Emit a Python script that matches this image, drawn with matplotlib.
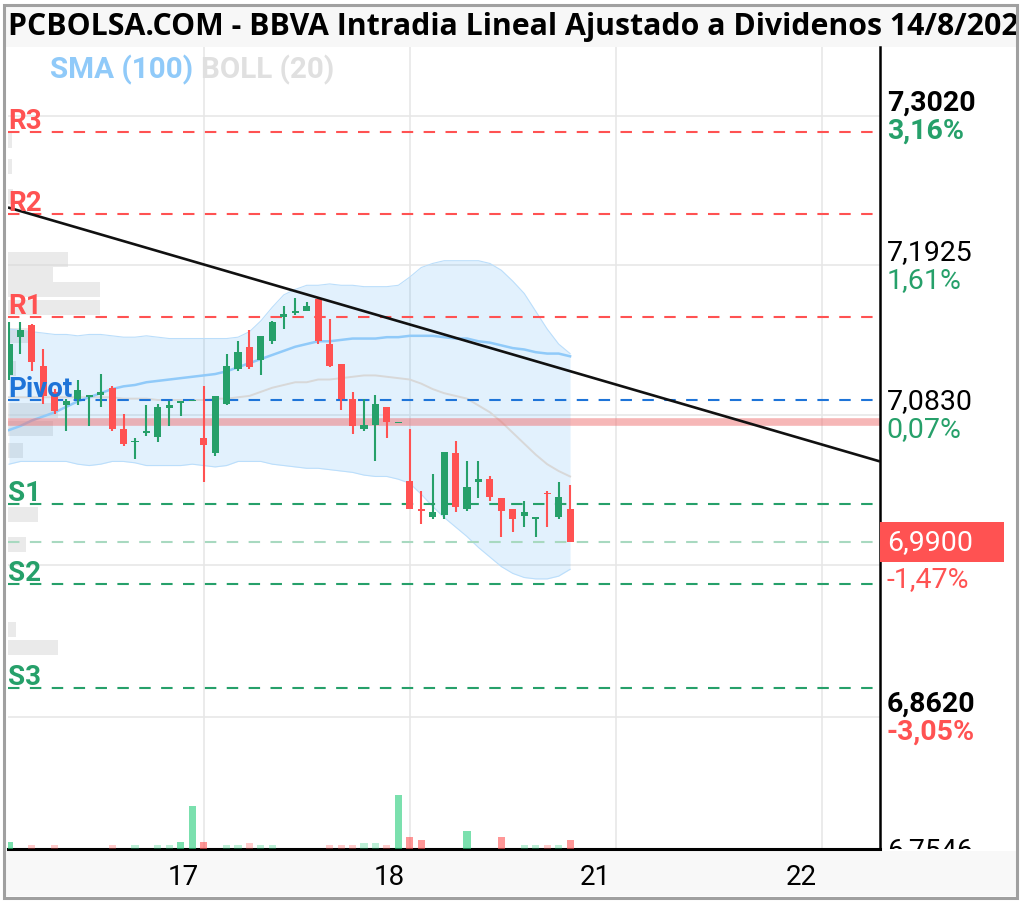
import numpy as np
import matplotlib
matplotlib.use("Agg")
import matplotlib.pyplot as plt
from matplotlib.patches import Rectangle
import matplotlib.transforms as mtransforms

plt.rcParams["font.family"] = ["Roboto", "DejaVu Sans"]

W, H = 1022, 904

# ---- candles (30 min slots, days 16 / 17 / 18) ----
opens = [7.112, 7.140, 7.149, 7.119, 7.100, 7.090, 7.095, 7.096, 7.098, 7.103,
         7.073, 7.063, 7.070, 7.067, 7.088, 7.092, 7.093, 7.066, 7.055, 7.091,
         7.117, 7.133, 7.123, 7.137, 7.155, 7.158, 7.159, 7.168, 7.135, 7.120,
         7.095, 7.073, 7.076, 7.089, 7.077, 7.035, 7.014, 7.008, 7.010, 7.055,
         7.014, 7.034, 7.036, 7.022, 7.014, 7.009, 7.007, 7.026, 7.008, 7.014]
highs = [7.151, 7.151, 7.150, 7.131, 7.102, 7.095, 7.109, 7.098, 7.113, 7.104,
         7.084, 7.066, 7.090, 7.091, 7.093, 7.093, 7.094, 7.104, 7.097, 7.128,
         7.137, 7.145, 7.141, 7.152, 7.163, 7.169, 7.166, 7.168, 7.153, 7.120,
         7.100, 7.095, 7.098, 7.089, 7.078, 7.073, 7.027, 7.040, 7.056, 7.064,
         7.049, 7.049, 7.038, 7.022, 7.014, 7.020, 7.008, 7.027, 7.034, 7.032]
lows = [7.109, 7.128, 7.115, 7.091, 7.084, 7.071, 7.090, 7.075, 7.089, 7.071,
        7.060, 7.051, 7.068, 7.063, 7.075, 7.082, 7.093, 7.034, 7.053, 7.090,
        7.115, 7.117, 7.112, 7.135, 7.146, 7.156, 7.159, 7.135, 7.118, 7.087,
        7.069, 7.071, 7.049, 7.066, 7.077, 7.014, 7.003, 7.007, 7.007, 7.012,
        7.013, 7.022, 7.020, 6.994, 6.997, 7.001, 6.994, 7.001, 7.007, 6.990]
closes = [7.135, 7.145, 7.122, 7.097, 7.086, 7.093, 7.101, 7.098, 7.100, 7.073,
          7.062, 7.064, 7.071, 7.089, 7.090, 7.093, 7.094, 7.061, 7.097, 7.119,
          7.129, 7.118, 7.141, 7.151, 7.157, 7.159, 7.163, 7.137, 7.119, 7.095,
          7.075, 7.076, 7.091, 7.078, 7.078, 7.014, 7.013, 7.012, 7.056, 7.016,
          7.030, 7.036, 7.023, 7.013, 7.007, 7.012, 7.008, 7.025, 7.023, 6.990]
# volume in millions of shares
volumes = [0.7, 0, 0.45, 0, 0.45, 0, 0, 0, 0, 0.45,
           0, 0.45, 0, 0.45, 0.45, 0.7, 4.3, 0.7, 0, 0.45,
           0.45, 0.6, 0.45, 0.45, 0, 0, 0, 0, 0.45, 0.45,
           0.45, 0.6, 0.6, 0.45, 5.4, 1.25, 0.95, 0, 0, 0,
           1.8, 0, 0, 1.25, 0, 0.45, 0.45, 0.45, 0.45, 0.95]

sma100 = [7.072, 7.075, 7.079, 7.082, 7.085, 7.089, 7.093, 7.096, 7.099, 7.102,
          7.104, 7.105, 7.107, 7.108, 7.109, 7.110, 7.111, 7.112, 7.113, 7.115,
          7.118, 7.121, 7.124, 7.127, 7.130, 7.133, 7.135, 7.137, 7.137, 7.138,
          7.139, 7.139, 7.139, 7.140, 7.140, 7.141, 7.141, 7.141, 7.140, 7.139,
          7.139, 7.137, 7.136, 7.134, 7.132, 7.131, 7.129, 7.128, 7.128, 7.126]
boll_up = [7.146, 7.145, 7.144, 7.143, 7.142, 7.142, 7.141, 7.142, 7.142, 7.141,
           7.140, 7.140, 7.141, 7.140, 7.139, 7.139, 7.139, 7.139, 7.139, 7.139,
           7.140, 7.144, 7.152, 7.162, 7.171, 7.175, 7.178, 7.178, 7.179, 7.178,
           7.178, 7.177, 7.177, 7.177, 7.178, 7.184, 7.191, 7.194, 7.196, 7.196,
           7.196, 7.196, 7.194, 7.189, 7.181, 7.172, 7.159, 7.146, 7.135, 7.128]
boll_mid = [7.096, 7.096, 7.096, 7.096, 7.096, 7.096, 7.096, 7.096, 7.096, 7.096,
            7.095, 7.095, 7.095, 7.094, 7.094, 7.094, 7.094, 7.094, 7.095, 7.095,
            7.096, 7.097, 7.100, 7.103, 7.105, 7.107, 7.107, 7.109, 7.109, 7.110,
            7.111, 7.112, 7.112, 7.111, 7.110, 7.109, 7.106, 7.102, 7.099, 7.097,
            7.095, 7.090, 7.085, 7.078, 7.070, 7.062, 7.054, 7.047, 7.042, 7.038]
boll_low = [7.047, 7.049, 7.049, 7.049, 7.049, 7.049, 7.047, 7.046, 7.047, 7.049,
            7.049, 7.048, 7.046, 7.046, 7.046, 7.046, 7.047, 7.046, 7.045, 7.046,
            7.049, 7.049, 7.049, 7.047, 7.046, 7.045, 7.044, 7.044, 7.043, 7.042,
            7.041, 7.039, 7.038, 7.038, 7.036, 7.033, 7.025, 7.016, 7.008, 7.001,
            6.994, 6.986, 6.979, 6.972, 6.967, 6.964, 6.963, 6.963, 6.965, 6.970]

# pivot levels
level_names = ["R3", "R2", "R1", "Pivot", "S1", "S2", "S3"]
level_values = [7.290, 7.230, 7.155, 7.094, 7.018, 6.959, 6.883]
ref_close = 7.078
last_price = 6.990

# trend line anchors (slot index, price)
trend_x = [-0.09, 76.07]
trend_y = [7.235, 7.049]

# volume profile (price level, volume)
prof_price = [7.284, 7.265, 7.243, 7.197, 7.186, 7.175, 7.162, 7.141, 7.117,
              7.086, 7.073, 7.057, 7.010, 6.988, 6.926, 6.913]
prof_vol = [4, 4, 5, 60, 45, 92, 92, 20, 8, 50, 45, 15, 30, 18, 8, 50]

# axis labels
day_starts = [17, 35, 53, 71]
day_labels = ["17", "18", "21", "22"]
grid_vals = [7.3020, 7.1925, 7.0830, 6.9735, 6.8620, 6.7546]
grid_txt = ["7,3020", "7,1925", "7,0830", "", "6,8620", "6,7546"]  # 4th hidden by last-price box
pct_txt = ["3,16%", "1,61%", "0,07%", "-1,47%", "-3,05%", "-4,57%"]
grid_bold = [True, False, False, False, True, False]

GREEN = "#26a06a"
RED = "#ff5252"
BLUE = "#1e74d8"

fig = plt.figure(figsize=(W / 100, H / 100), dpi=100)
fig.patch.set_facecolor("white")

# title band
tax = fig.add_axes([5 / W, 1 - 48 / H, 1012 / W, 43 / H])
tax.set_facecolor("#f7f7f7")
tax.set_xticks([]); tax.set_yticks([])
for s in tax.spines.values():
    s.set_visible(False)
tax.text(0.003, 0.48, "PCBOLSA.COM - BBVA Intradia Lineal Ajustado a Dividenos 14/8/2025",
         transform=tax.transAxes, va="center", ha="left", fontsize=21.8,
         family=["Open Sans", "DejaVu Sans"], fontweight="bold", clip_on=True)

# bottom band
bax = fig.add_axes([5 / W, 1 - 897 / H, 1012 / W, 45 / H])
bax.set_facecolor("#f8f8f8")
bax.set_xticks([]); bax.set_yticks([])
for s in bax.spines.values():
    s.set_visible(False)

ax = fig.add_axes([8 / W, 54 / H, 872 / W, 802 / H])
ax.set_xlim(-0.09, 76.07)
ax.set_ylim(6.7652, 7.3525)
for s in ["left", "top"]:
    ax.spines[s].set_visible(False)
ax.spines["right"].set_linewidth(1.8)
ax.spines["bottom"].set_linewidth(2.2)
ax.set_yticks([])
ax.set_xticks(np.array(day_starts) - 1.8)
ax.set_xticklabels(day_labels, fontsize=20)
ax.tick_params(axis="x", length=0, pad=10)

for v in grid_vals:
    ax.axhline(v, color="#e6e6e6", lw=1.1, zorder=0.5)
for d in day_starts:
    ax.axvline(d, color="#e6e6e6", lw=1.1, zorder=0.5)

k = np.arange(len(opens))
o = np.array(opens); c = np.array(closes)
hi = np.array(highs); lo = np.array(lows)

# volume profile on the left edge
ax.barh(prof_price, np.array(prof_vol) / 11.45, height=0.011, left=-0.09,
        color="#d6d6d6", alpha=0.5, lw=0, zorder=1)

# bollinger + sma
ax.fill_between(k, boll_low, boll_up, color="#2196f3", alpha=0.13, lw=0, zorder=1.2)
ax.plot(k, boll_up, color="#bbdefb", lw=0.8, zorder=1.3)
ax.plot(k, boll_low, color="#bbdefb", lw=0.8, zorder=1.3)
ax.plot(k, boll_mid, color="#d8d8d8", lw=1.4, zorder=1.4)
ax.plot(k, sma100, color="#90caf9", lw=1.8, zorder=1.5)

# reference close line
ax.axhline(ref_close, color="#ef7070", alpha=0.5, lw=5.5, zorder=2)

# pivot levels
lcols = [RED, RED, RED, BLUE, GREEN, GREEN, GREEN]
lab_off = mtransforms.ScaledTranslation(0, 4 / 100, fig.dpi_scale_trans)
for name, v, col in zip(level_names, level_values, lcols):
    ax.axhline(v, color=col, lw=1.5, dashes=(5.5, 5), zorder=3)
    ax.text(0.0, v, name, color=col, fontsize=20, fontweight="bold",
            va="baseline", ha="left",
            transform=ax.get_yaxis_transform() + lab_off, zorder=7)
ax.axhline(last_price, color="#a8d9c0", lw=1.5, dashes=(5.5, 5), zorder=3)

# candles
up = c >= o
ccol = np.where(up, GREEN, RED)
ax.vlines(k, lo, hi, colors=ccol, lw=1.5, zorder=5)
body = np.maximum(np.abs(c - o), 0.0007)
ax.bar(k, body, bottom=np.minimum(o, c), width=0.62, color=ccol, lw=0, zorder=5.5)

# trend line
ax.plot(trend_x, trend_y, color="#111111", lw=1.9, zorder=6, solid_capstyle="butt")

# volume bars (10 px per million)
vax = ax.twinx()
vax.set_ylim(0, 80.2)
vax.set_axis_off()
vol = np.array(volumes)
vcol = []
for i in range(len(vol)):
    a = 0.3 if vol[i] < 0.65 else 0.6
    base = (0.14, 0.80, 0.47) if up[i] else (1.0, 0.32, 0.32)
    vcol.append((*base, a))
vax.bar(k, vol, width=0.62, color=vcol, lw=0)

# legend text
fig.text(50 / W, 1 - 70 / H, "SMA (100)", color="#90caf9", fontsize=21.3,
         fontweight="bold", va="center", ha="left")
fig.text(201 / W, 1 - 70 / H, "BOLL (20)", color="#e0e0e0", fontsize=21.3,
         fontweight="bold", va="center", ha="left")

# right price labels
rax = fig.add_axes([880 / W, 54 / H, 136 / W, 802 / H])
rax.set_xlim(0, 1)
rax.set_ylim(ax.get_ylim())
rax.set_axis_off()
up_off = mtransforms.ScaledTranslation(0, 14 / 100, fig.dpi_scale_trans)
dn_off = mtransforms.ScaledTranslation(0, -14 / 100, fig.dpi_scale_trans)
for v, t, p, b in zip(grid_vals, grid_txt, pct_txt, grid_bold):
    w = "bold" if b else "normal"
    if t:
        rax.text(0.05, v, t, fontsize=20.5, fontweight=w, color="black",
                 va="center", ha="left", transform=rax.transData + up_off, clip_on=True)
    pc = GREEN if not p.startswith("-") else RED
    rax.text(0.05, v, p, fontsize=20.5, fontweight=w, color=pc,
             va="center", ha="left", transform=rax.transData + dn_off, clip_on=True)
rax.add_patch(Rectangle((0, last_price - 0.0143), 0.915, 0.0286,
                        facecolor=RED, edgecolor="none", zorder=5))
rax.text(0.05, last_price, "6,9900", fontsize=20.5, color="white",
         va="center", ha="left", zorder=6)

# outer border
fig.patches.append(Rectangle((4 / W, 5 / H), 1013 / W, 893 / H,
                             transform=fig.transFigure, facecolor="none",
                             edgecolor="#a0a0a0", lw=2.2, zorder=10))

fig.savefig("out.png", dpi=100, facecolor="white")
